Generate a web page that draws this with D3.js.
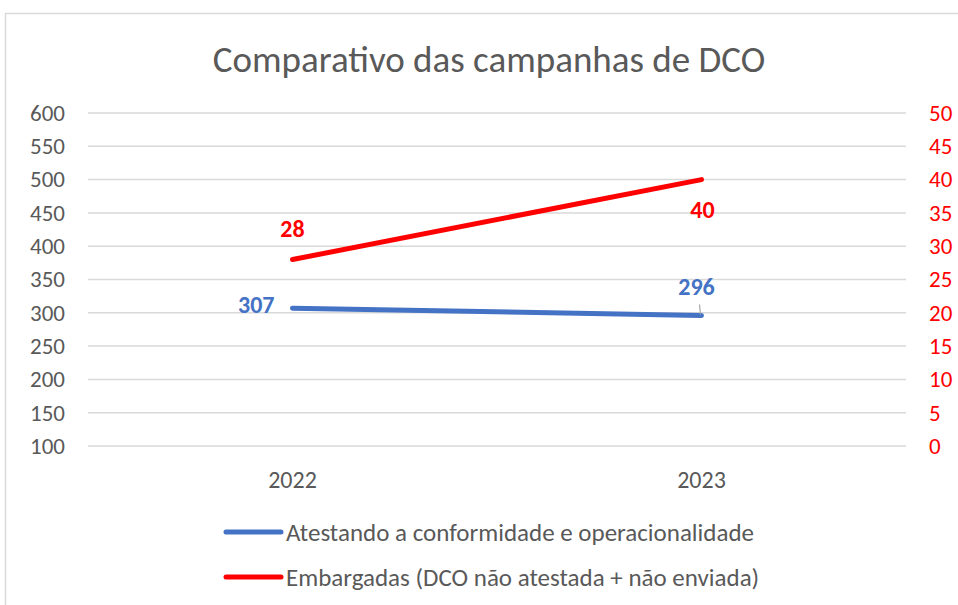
<!DOCTYPE html>
<html>
<head>
<meta charset="utf-8">
<script src="https://cdn.jsdelivr.net/npm/d3@7"></script>
<style>
  body { margin: 0; background: #fff; }
  text { font-family: Carlito, Calibri, "Noto Sans", sans-serif; }
</style>
</head>
<body>
<script>
var width = 958
var height = 605

var years = ['2022', '2023']
var atestando = [307, 296]
var embargadas = [28, 40]
var leftTicks = [100, 150, 200, 250, 300, 350, 400, 450, 500, 550, 600]
var rightTicks = [0, 5, 10, 15, 20, 25, 30, 35, 40, 45, 50]
var seriesNames = ['Atestando a conformidade e operacionalidade', 'Embargadas (DCO não atestada + não enviada)']

var blue = '#4472C4'
var red = '#FF0000'
var grey = '#595959'

var svg = d3.select('body').append('svg')
  .attr('width', width)
  .attr('height', height)

// chart frame
svg.append('rect')
  .attr('x', 5.5).attr('y', 13.5)
  .attr('width', 1000).attr('height', 700)
  .attr('fill', 'none')
  .attr('stroke', '#d9d9d9')
  .attr('stroke-width', 1.5)

svg.append('text')
  .attr('x', 489).attr('y', 72)
  .attr('text-anchor', 'middle')
  .attr('fill', grey)
  .style('font-size', '37px')
  .text('Comparativo das campanhas de DCO')

var plotL = 88, plotR = 906, plotT = 113, plotB = 446

var x = d3.scaleBand().domain(years).range([plotL, plotR])
var yL = d3.scaleLinear().domain([100, 600]).range([plotB, plotT])
var yR = d3.scaleLinear().domain([0, 50]).range([plotB, plotT])

// gridlines
svg.append('g').selectAll('line')
  .data(leftTicks)
  .enter().append('line')
  .attr('x1', plotL).attr('x2', plotR)
  .attr('y1', function (d) { return yL(d) })
  .attr('y2', function (d) { return yL(d) })
  .attr('stroke', '#d9d9d9')
  .attr('stroke-width', 1.5)

// left axis
var gL = svg.append('g')
  .attr('transform', 'translate(65,0)')
  .call(d3.axisLeft(yL).tickValues(leftTicks).tickSize(0).tickPadding(0))
gL.select('.domain').remove()
gL.selectAll('text').attr('fill', grey).style('font-size', '23px')

// right axis
var gR = svg.append('g')
  .attr('transform', 'translate(929,0)')
  .call(d3.axisRight(yR).tickValues(rightTicks).tickSize(0).tickPadding(0))
gR.select('.domain').remove()
gR.selectAll('text').attr('fill', red).style('font-size', '23px')

// x axis
var gX = svg.append('g')
  .attr('transform', 'translate(0,480)')
  .call(d3.axisBottom(x).tickSize(0).tickPadding(0))
gX.select('.domain').remove()
gX.selectAll('text').attr('fill', grey).style('font-size', '24px').attr('dy', '0.35em')

function cx (d, i) { return x(years[i]) + x.bandwidth() / 2 }

var lineL = d3.line().x(cx).y(function (d) { return yL(d) })
var lineR = d3.line().x(cx).y(function (d) { return yR(d) })

svg.append('path')
  .attr('d', lineL(atestando))
  .attr('fill', 'none')
  .attr('stroke', blue)
  .attr('stroke-width', 5)
  .attr('stroke-linecap', 'round')

svg.append('path')
  .attr('d', lineR(embargadas))
  .attr('fill', 'none')
  .attr('stroke', red)
  .attr('stroke-width', 5)
  .attr('stroke-linecap', 'round')

// data labels
var lbl = svg.append('g').style('font-size', '24px').style('font-weight', 'bold')

lbl.append('text')
  .attr('x', cx(atestando[0], 0) - 18).attr('y', yL(atestando[0]) - 4)
  .attr('dy', '0.35em').attr('text-anchor', 'end')
  .attr('fill', blue).text(atestando[0])

lbl.append('text')
  .attr('x', cx(atestando[1], 1) - 5).attr('y', yL(atestando[1]) - 20)
  .attr('text-anchor', 'middle')
  .attr('fill', blue).text(atestando[1])

svg.append('line')
  .attr('x1', cx(atestando[1], 1) - 2).attr('x2', cx(atestando[1], 1) - 1)
  .attr('y1', yL(atestando[1]) - 11).attr('y2', yL(atestando[1]) - 1)
  .attr('stroke', '#a6a6a6').attr('stroke-width', 1.2)

lbl.append('text')
  .attr('x', cx(embargadas[0], 0)).attr('y', yR(embargadas[0]) - 23)
  .attr('text-anchor', 'middle')
  .attr('fill', red).text(embargadas[0])

lbl.append('text')
  .attr('x', cx(embargadas[1], 1) + 1).attr('y', yR(embargadas[1]) + 38)
  .attr('text-anchor', 'middle')
  .attr('fill', red).text(embargadas[1])

// legend
var legend = svg.append('g').selectAll('g')
  .data(seriesNames)
  .enter().append('g')
  .attr('transform', function (d, i) { return 'translate(226,' + (532 + i * 45) + ')' })

legend.append('line')
  .attr('x1', 0).attr('x2', 55)
  .attr('stroke', function (d, i) { return i === 0 ? blue : red })
  .attr('stroke-width', 5)
  .attr('stroke-linecap', 'round')

legend.append('text')
  .attr('x', 60).attr('dy', '0.35em')
  .attr('fill', grey)
  .style('font-size', '25px')
  .text(function (d) { return d })
</script>
</body>
</html>
